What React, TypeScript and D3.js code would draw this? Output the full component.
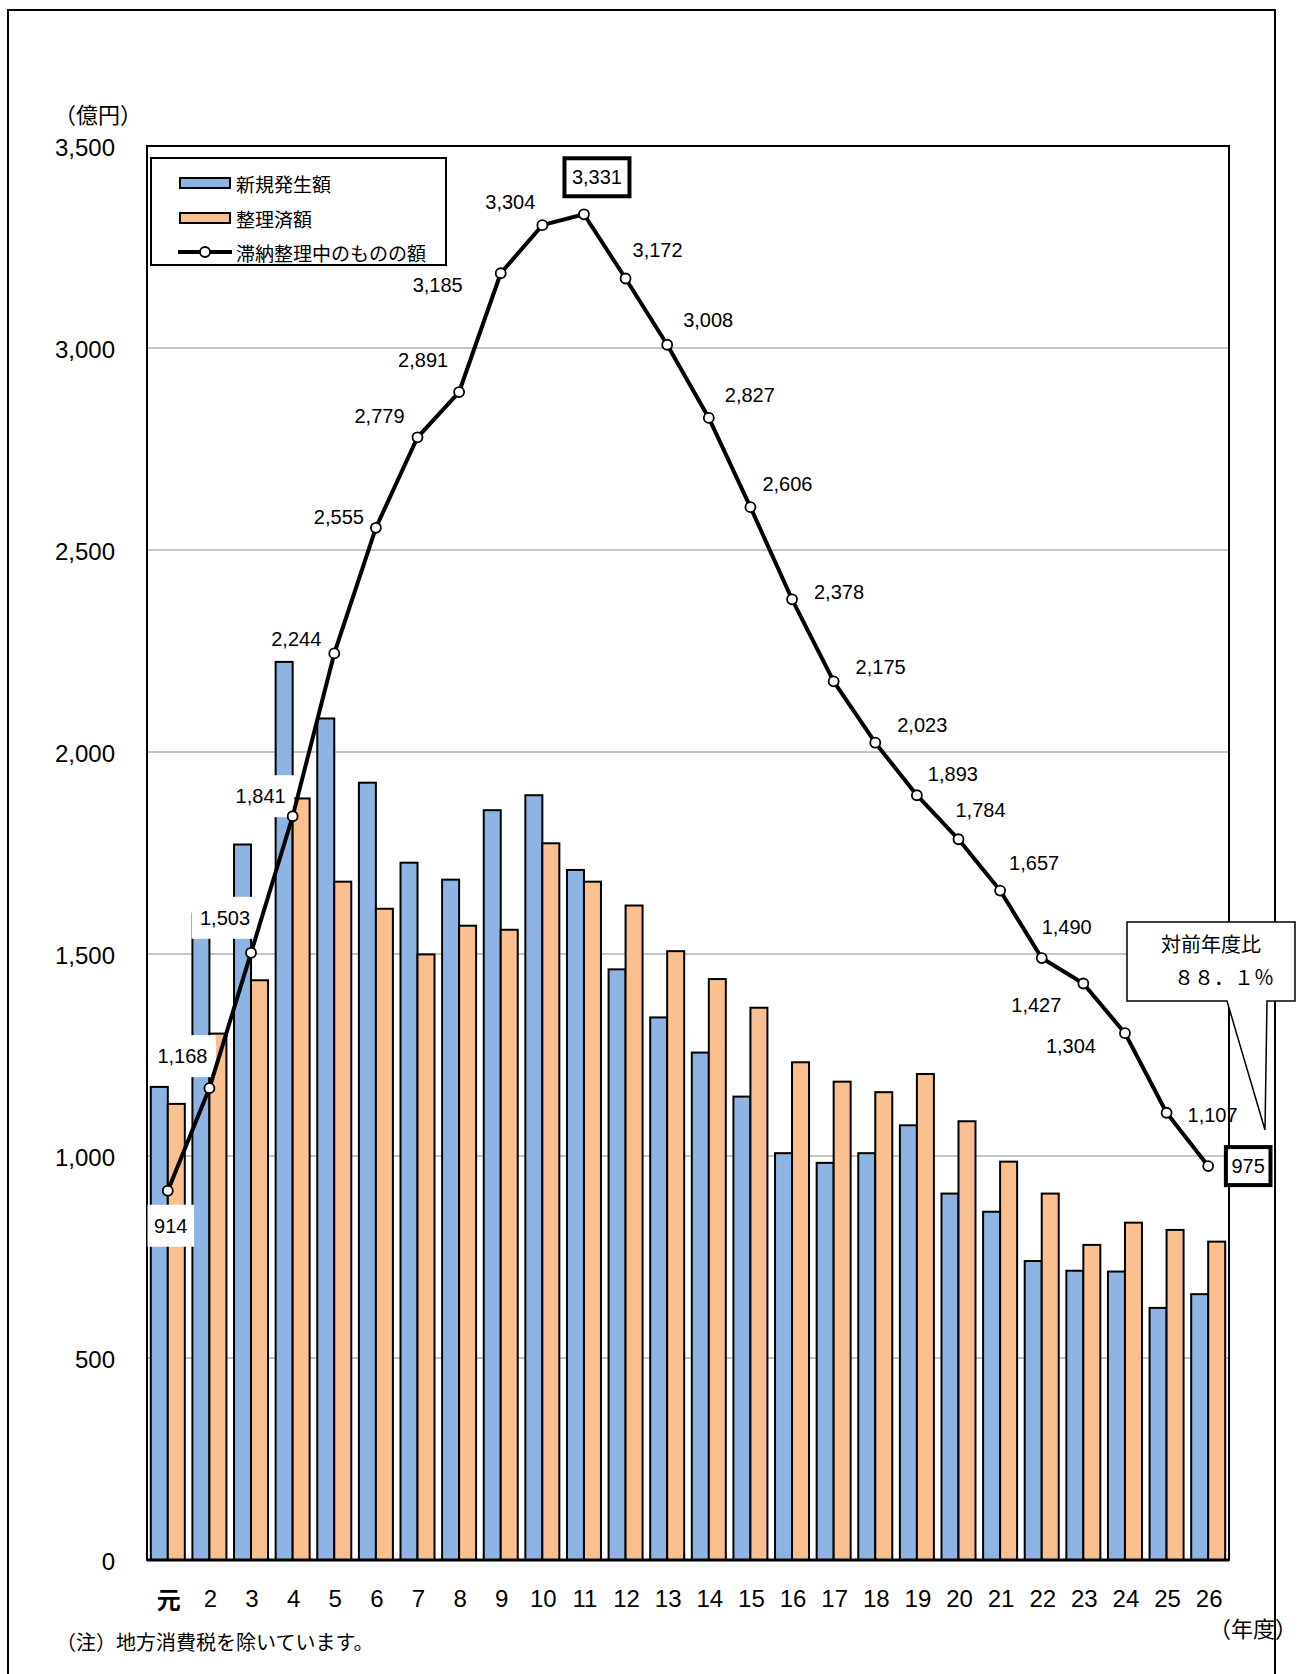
import React from 'react';
import * as d3 from 'd3';

const categories = ['元','2','3','4','5','6','7','8','9','10','11','12','13','14','15','16','17','18','19','20','21','22','23','24','25','26'];
const newArrears = [1171, 1600, 1771, 2223, 2083, 1924, 1726, 1684, 1856, 1893, 1708, 1462, 1343, 1256, 1147, 1007, 983, 1007, 1076, 907, 862, 740, 716, 714, 624, 658];
const resolved = [1129, 1303, 1435, 1885, 1679, 1612, 1499, 1570, 1560, 1774, 1679, 1620, 1507, 1438, 1367, 1232, 1184, 1158, 1203, 1086, 986, 907, 780, 835, 817, 788];
const outstanding = [914, 1168, 1503, 1841, 2244, 2555, 2779, 2891, 3185, 3304, 3331, 3172, 3008, 2827, 2606, 2378, 2175, 2023, 1893, 1784, 1657, 1490, 1427, 1304, 1107, 975];
const yTicks = [0, 500, 1000, 1500, 2000, 2500, 3000, 3500];
const seriesNames = ['新規発生額', '整理済額', '滞納整理中のものの額'];
const unitLabel = '（億円）';
const xUnitLabel = '（年度）';
const noteText = '（注）地方消費税を除いています。';
const calloutLines = ['対前年度比', '８８．１％'];

// label placement (offset from point, px) and style: 0 plain, 1 white box, 2 thick frame
const labelDx = [3, -27, -26, -32, -38, -37, -38, -36, -63, -32, 13, 32, 41, 41, 37, 47, 47, 47, 36, 22, 34, 25, -47, -54, 46, 40];
const labelDy = [35, -32, -35, -20, -14, -11, -21, -32, 12, -23, -37, -29, -25, -23, -23, -7, -14, -18, -21, -29, -28, -31, 22, 13, 2, 0];
const labelKind = [1, 1, 1, 1, 0, 0, 0, 0, 0, 0, 2, 0, 0, 0, 0, 0, 0, 0, 0, 0, 0, 0, 0, 0, 0, 2];

const BLUE = '#8DB4E2';
const ORANGE = '#FAC090';
const NUM_FONT = '"Liberation Sans", Arial, sans-serif';
const JP_FONT = '"Noto Sans CJK JP", "Noto Sans", sans-serif';

export default function App() {
  const W = 1298, H = 1674;
  const left = 147, right = 1229, top = 146, bottom = 1560;
  const x = d3.scaleBand<string>().domain(categories).range([left, right]).paddingInner(0).paddingOuter(0);
  const sub = d3.scaleBand<string>().domain(['n', 'r']).range([0, x.bandwidth()]).paddingInner(0).paddingOuter(0.224);
  const y = d3.scaleLinear().domain([0, 3500]).range([bottom, top]);
  const cx = (c: string) => (x(c) as number) + x.bandwidth() / 2;
  const line = d3.line<number>().x((_, i) => cx(categories[i])).y(d => y(d));
  const fmt = d3.format(',');

  return (
    <svg width={W} height={H} style={{ position: 'absolute', left: 0, top: 0, background: '#fff' }}>
      <rect x={0} y={0} width={W} height={H} fill="#fff" />
      {/* outer frame */}
      <rect x={8} y={10} width={1267} height={1700} fill="none" stroke="#000" strokeWidth={2} />

      {/* grid */}
      {yTicks.filter(t => t > 0 && t < 3500).map(t => (
        <line key={t} x1={left} x2={right} y1={y(t)} y2={y(t)} stroke="#8c8c8c" strokeWidth={1.2} />
      ))}

      {/* bars */}
      {categories.map((c, i) => (
        <g key={c}>
          <rect x={(x(c) as number) + (sub('n') as number)} y={y(newArrears[i])} width={sub.bandwidth()} height={bottom - y(newArrears[i])} fill={BLUE} stroke="#000" strokeWidth={2} />
          <rect x={(x(c) as number) + (sub('r') as number)} y={y(resolved[i])} width={sub.bandwidth()} height={bottom - y(resolved[i])} fill={ORANGE} stroke="#000" strokeWidth={2} />
        </g>
      ))}

      {/* plot frame */}
      <rect x={left} y={top} width={right - left} height={bottom - top} fill="none" stroke="#000" strokeWidth={2} />
      <line x1={left} x2={right} y1={bottom} y2={bottom} stroke="#000" strokeWidth={3} />

      {/* y tick labels */}
      {yTicks.map(t => (
        <text key={t} x={115} y={y(t) + 1} textAnchor="end" dominantBaseline="central" fontFamily={NUM_FONT} fontSize={24} fill="#000">{fmt(t)}</text>
      ))}
      <text x={54} y={113} dominantBaseline="central" fontFamily={JP_FONT} fontSize={22} fill="#000">{unitLabel}</text>

      {/* x labels */}
      {categories.map(c => (
        <text key={c} x={cx(c) + 1} y={1598} textAnchor="middle" dominantBaseline="central" fontFamily={c === '元' ? JP_FONT : NUM_FONT} fontSize={24} fontWeight={c === '元' ? 700 : 400} fill="#000">{c}</text>
      ))}
      <text x={1209} y={1627} dominantBaseline="central" fontFamily={JP_FONT} fontSize={22} fill="#000">{xUnitLabel}</text>
      <text x={56} y={1641} dominantBaseline="central" fontFamily={JP_FONT} fontSize={20} fill="#000">{noteText}</text>

      {/* label boxes */}
      {outstanding.map((v, i) => {
        if (labelKind[i] === 0) return null;
        const lx = cx(categories[i]) + labelDx[i];
        const ly = y(v) + labelDy[i];
        const s = fmt(v);
        const w = s.length * 10.2;
        if (labelKind[i] === 1) {
          return <rect key={i} x={lx - w / 2 - 8} y={ly - 21} width={w + 16} height={42} fill="#fff" />;
        }
        return <rect key={i} x={lx - w / 2 - 7} y={ly - 19} width={w + 14} height={38} fill="#fff" stroke="#000" strokeWidth={4} />;
      })}

      {/* line */}
      <path d={line(outstanding) as string} fill="none" stroke="#000" strokeWidth={4} strokeLinejoin="round" />
      {outstanding.map((v, i) => (
        <circle key={i} cx={cx(categories[i])} cy={y(v)} r={5} fill="#fff" stroke="#000" strokeWidth={1.8} />
      ))}

      {/* data labels */}
      {outstanding.map((v, i) => (
        <text key={i} x={cx(categories[i]) + labelDx[i]} y={y(v) + labelDy[i]} textAnchor="middle" dominantBaseline="central" fontFamily={NUM_FONT} fontSize={20} fill="#000">{fmt(v)}</text>
      ))}

      {/* legend */}
      <rect x={151} y={158} width={295} height={107} fill="#fff" stroke="#000" strokeWidth={2} />
      <rect x={180} y={178} width={50} height={10} fill={BLUE} stroke="#000" strokeWidth={2} />
      <text x={236} y={183} dominantBaseline="central" fontFamily={JP_FONT} fontSize={19} fill="#000">{seriesNames[0]}</text>
      <rect x={180} y={213} width={50} height={10} fill={ORANGE} stroke="#000" strokeWidth={2} />
      <text x={236} y={218} dominantBaseline="central" fontFamily={JP_FONT} fontSize={19} fill="#000">{seriesNames[1]}</text>
      <line x1={178} x2={232} y1={252} y2={252} stroke="#000" strokeWidth={4} />
      <circle cx={205} cy={252} r={5} fill="#fff" stroke="#000" strokeWidth={1.8} />
      <text x={236} y={252} dominantBaseline="central" fontFamily={JP_FONT} fontSize={19} fill="#000">{seriesNames[2]}</text>

      {/* callout */}
      <path d="M1127,922 L1295,922 L1295,1001 L1267,1001 L1265,1130 L1227,1001 L1127,1001 Z" fill="#fff" stroke="#000" strokeWidth={1.5} />
      <text x={1211} y={943} textAnchor="middle" dominantBaseline="central" fontFamily={JP_FONT} fontSize={20} fill="#000">{calloutLines[0]}</text>
      <text x={1174} y={976} dominantBaseline="central" fontFamily={JP_FONT} fontSize={20} fill="#000">{calloutLines[1]}</text>
    </svg>
  );
}
